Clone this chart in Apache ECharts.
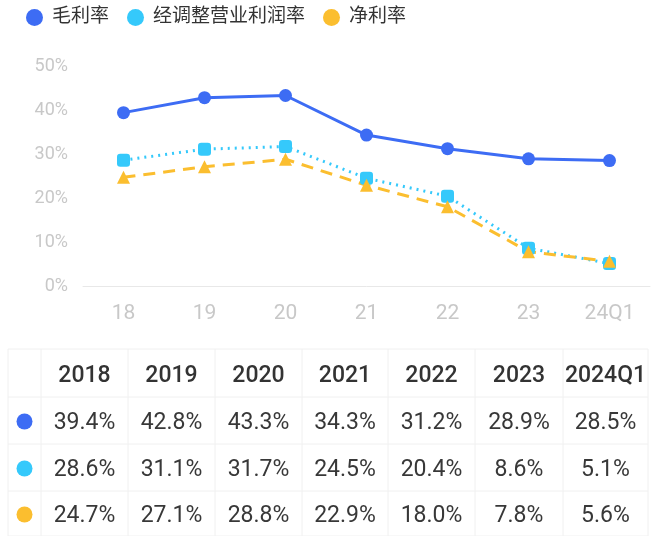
<!DOCTYPE html>
<html><head><meta charset="utf-8">
<script src="https://cdn.jsdelivr.net/npm/echarts@6/dist/echarts.min.js"></script>
<style>html,body{margin:0;padding:0;background:#fff}#c{width:660px;height:536px}</style>
</head><body><div id="c"></div>
<script>
const categories = ['18','19','20','21','22','23','24Q1'];
const tableHeaders = ['2018','2019','2020','2021','2022','2023','2024Q1'];
const seriesNames = ['毛利率','经调整营业利润率','净利率'];
const grossMargin = [39.4, 42.8, 43.3, 34.3, 31.2, 28.9, 28.5];
const adjOpMargin = [28.6, 31.1, 31.7, 24.5, 20.4, 8.6, 5.1];
const netMargin = [24.7, 27.1, 28.8, 22.9, 18.0, 7.8, 5.6];
const colors = ['#3d6cf4', '#35c9fb', '#fbbe2f'];

const allSeries = [grossMargin, adjOpMargin, netMargin];
const font = 'Roboto, "Noto Sans CJK SC", sans-serif';

// table graphic
const colEdges = [8, 41, 128, 215, 302, 388, 475, 563, 648];
const rowEdges = [349, 397, 444, 491, 536];
const lineColor = '#f0f0f0';
const g = [];
colEdges.forEach(x => g.push({type:'line', shape:{x1:x, y1:rowEdges[0], x2:x, y2:536}, style:{stroke:lineColor, lineWidth:1}, silent:true}));
rowEdges.forEach(y => g.push({type:'line', shape:{x1:colEdges[0], y1:y, x2:colEdges[colEdges.length-1], y2:y}, style:{stroke:lineColor, lineWidth:1}, silent:true}));
function cx(i){ return (colEdges[i+1] + colEdges[i+2]) / 2; }
function cy(r){ return (rowEdges[r] + rowEdges[r+1]) / 2 + 3; }
tableHeaders.forEach((h, i) => g.push({type:'text', x:cx(i), y:cy(0), style:{text:h, fill:'#333', font:'500 23px ' + font, textAlign:'center', textVerticalAlign:'middle'}}));
allSeries.forEach((arr, r) => {
  g.push({type:'circle', shape:{cx:(colEdges[0]+colEdges[1])/2, cy:cy(r+1)-2, r:8}, style:{fill:colors[r]}});
  arr.forEach((v, i) => g.push({type:'text', x:cx(i), y:cy(r+1), style:{text:v.toFixed(1)+'%', fill:'#383838', font:'23px ' + font, textAlign:'center', textVerticalAlign:'middle'}}));
});

const chart = echarts.init(document.getElementById('c'));
chart.setOption({
  animation:false,
  color: colors,
  legend: {
    left: 21, top: 3, itemWidth: 25, itemHeight: 17, itemGap: 18,
    icon: 'circle',
    textStyle: {fontSize: 19, color: '#333', fontFamily: font},
    data: seriesNames
  },
  grid: {left: 83, right: 10, top: 66, height: 220},
  xAxis: {
    type:'category', data: categories, boundaryGap: true,
    axisLine: {lineStyle:{color:'#e8e8e8'}},
    axisTick: {show:false},
    axisLabel: {color:'#c8c8c8', fontSize:21, margin:17, fontFamily: font}
  },
  yAxis: {
    type:'value', min:0, max:50, interval:10,
    axisLine:{show:false}, axisTick:{show:false}, splitLine:{show:false},
    axisLabel:{formatter:'{value}%', color:'#c8c8c8', fontSize:18, margin:15, fontFamily: font}
  },
  series: [
    {name: seriesNames[0], type:'line', data: grossMargin, symbol:'circle', symbolSize:13,
     lineStyle:{width:3, type:'solid'}, itemStyle:{color:colors[0]}},
    {name: seriesNames[1], type:'line', data: adjOpMargin, symbol:'roundRect', symbolSize:13,
     lineStyle:{width:3, type:[2,5]}, itemStyle:{color:colors[1]}},
    {name: seriesNames[2], type:'line', data: netMargin, symbol:'triangle', symbolSize:13,
     lineStyle:{width:3, type:[12,8]}, itemStyle:{color:colors[2]}}
  ],
  graphic: g
});
</script></body></html>
